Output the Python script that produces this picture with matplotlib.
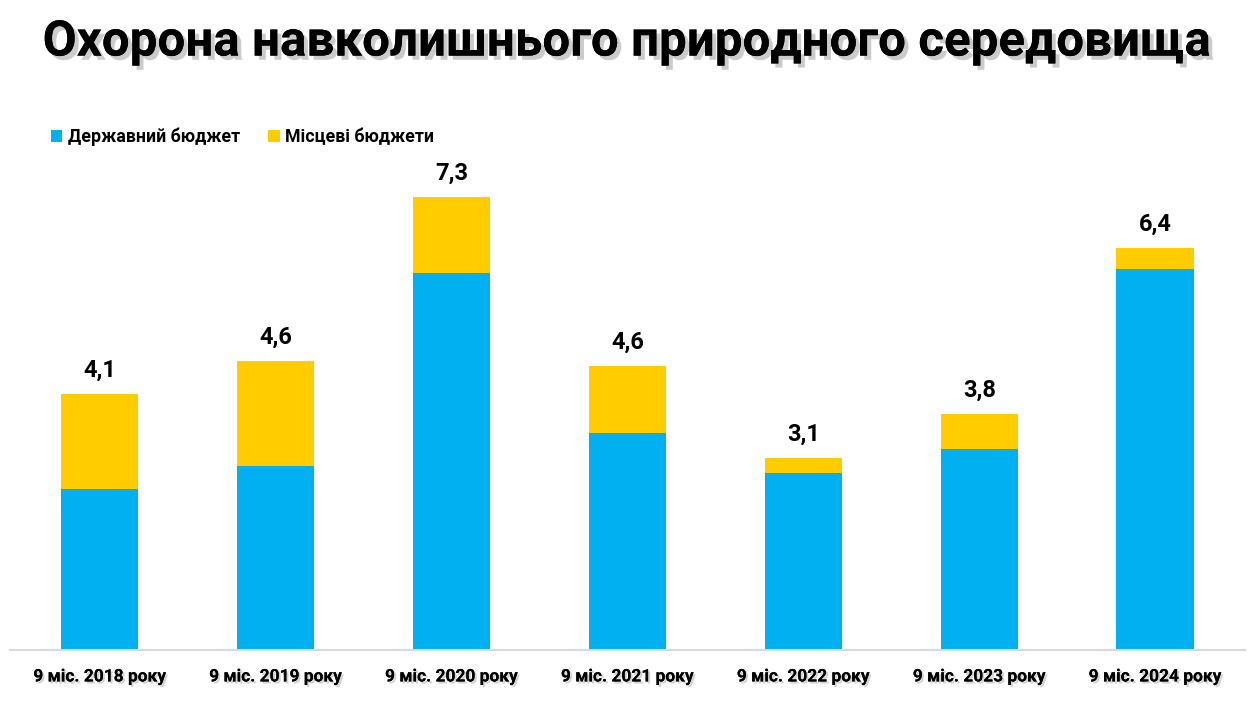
import matplotlib
matplotlib.use('Agg')
import matplotlib.pyplot as plt
import matplotlib.patheffects as pe
import numpy as np

categories = ['9 міс. 2018 року', '9 міс. 2019 року', '9 міс. 2020 року', '9 міс. 2021 року',
              '9 міс. 2022 року', '9 міс. 2023 року', '9 міс. 2024 року']
state_budget = [2.6, 2.97, 6.08, 3.5, 2.86, 3.25, 6.14]
local_budget = [1.53, 1.69, 1.22, 1.08, 0.23, 0.55, 0.34]
total_labels = ['4,1', '4,6', '7,3', '4,6', '3,1', '3,8', '6,4']

BLUE = '#00B0F0'
YELLOW = '#FFCC00'

plt.rcParams['font.family'] = ['Roboto', 'DejaVu Sans']

fig = plt.figure(figsize=(12.6, 7.1), dpi=100)
ax = fig.add_axes([0.008, 0.0845, 0.98, 0.6985])

x = np.arange(len(categories))
w = 0.44
ax.bar(x, state_budget, w, color=BLUE, label='Державний бюджет')
ax.bar(x, local_budget, w, bottom=state_budget, color=YELLOW, label='Місцеві бюджети')

shadow = [pe.withSimplePatchShadow(offset=(1.5, -1.5), shadow_rgbFace='#aaaaaa', alpha=0.5), pe.Normal()]

tops = np.array(state_budget) + np.array(local_budget)
for xi, top, lab in zip(x, tops, total_labels):
    ax.text(xi, top + 0.2, lab, ha='center', va='bottom', fontsize=17, fontweight='bold')

ax.set_xlim(-0.51, 6.51)
ax.set_ylim(0, 8)
ax.set_yticks([])
ax.set_xticks(x)
ax.set_xticklabels(categories, fontsize=12.5, fontweight='bold')
for t in ax.get_xticklabels():
    t.set_path_effects(shadow)
ax.tick_params(axis='x', length=0, pad=14)
for s in ['top', 'right', 'left']:
    ax.spines[s].set_visible(False)
ax.spines['bottom'].set_color('#D9D9D9')
ax.spines['bottom'].set_linewidth(1.5)

fig.legend(loc='upper left', bbox_to_anchor=(0.0275, 0.843), ncol=2, frameon=False,
           handlelength=0.65, handleheight=0.65, handletextpad=0.3,
           columnspacing=1.6, prop={'weight': 'bold', 'size': 12.8})

fig.text(0.497, 0.94, 'Охорона навколишнього природного середовища', ha='center', va='center',
         fontsize=35.5, fontweight='bold',
         path_effects=[pe.withSimplePatchShadow(offset=(3, -3), shadow_rgbFace='#999999', alpha=0.5), pe.Normal()])

fig.savefig('out.png', dpi=100, facecolor='white')
